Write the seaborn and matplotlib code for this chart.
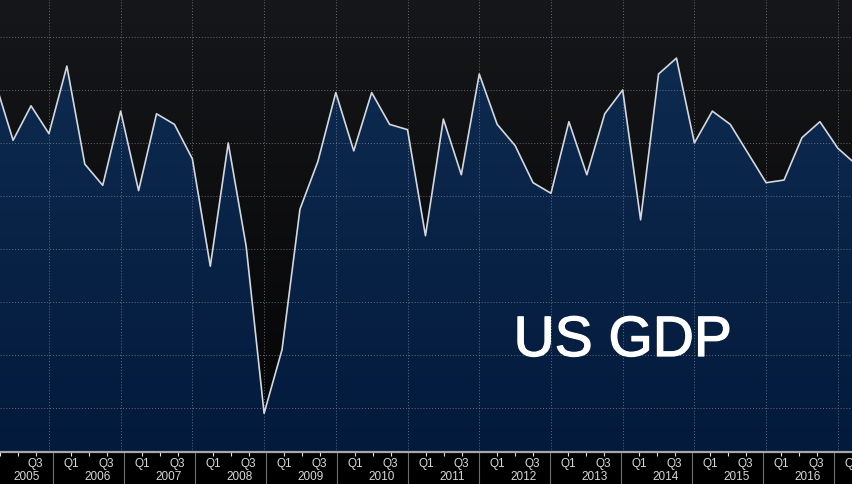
import numpy as np
import matplotlib
matplotlib.use('Agg')
import matplotlib.pyplot as plt
import matplotlib.patheffects as pe
from matplotlib.colors import LinearSegmentedColormap
import seaborn as sns

# Quarterly US GDP growth (annualised %)
years = list(range(2005, 2018))
quarters = ['Q1', 'Q2', 'Q3', 'Q4']
gdp_2005 = [4.3, 2.1, 3.4, 2.35]
gdp_2006 = [4.9, 1.2, 0.4, 3.2]
gdp_2007 = [0.2, 3.1, 2.7, 1.4]
gdp_2008 = [-2.65, 2.0, -1.9, -8.2]
gdp_2009 = [-5.8, -0.5, 1.3, 3.9]
gdp_2010 = [1.7, 3.9, 2.7, 2.5]
gdp_2011 = [-1.5, 2.9, 0.8, 4.6]
gdp_2012 = [2.7, 1.9, 0.5, 0.1]
gdp_2013 = [2.8, 0.8, 3.1, 4.0]
gdp_2014 = [-0.9, 4.6, 5.2, 2.0]
gdp_2015 = [3.2, 2.7, 1.6, 0.5]
gdp_2016 = [0.6, 2.2, 2.8, 1.8]
gdp_2017 = [1.2]

gdp = (gdp_2005 + gdp_2006 + gdp_2007 + gdp_2008 + gdp_2009 + gdp_2010 +
       gdp_2011 + gdp_2012 + gdp_2013 + gdp_2014 + gdp_2015 + gdp_2016 + gdp_2017)
x = np.arange(len(gdp))
y = np.array(gdp)

grid_values = [-8, -6, -4, -2, 0, 2, 4, 6]
xlim = (0.27, 47.79)
ylim = (-9.66, 7.43)

sns.set_style('dark')
plt.rcParams['font.family'] = ['Liberation Sans', 'DejaVu Sans']

fig = plt.figure(figsize=(8.52, 4.85), dpi=100)
fig.patch.set_facecolor('black')
ax = fig.add_axes([0, 32 / 485, 1, 453 / 485])
ax.set_xlim(*xlim)
ax.set_ylim(*ylim)
ax.set_axis_off()

# background gradient (dark grey to black)
bg_cmap = LinearSegmentedColormap.from_list('bg', ['#040405', '#16171a'])
grad = np.linspace(0, 1, 256).reshape(-1, 1)
ax.imshow(grad, extent=[xlim[0], xlim[1], ylim[0], ylim[1]], origin='lower',
          aspect='auto', cmap=bg_cmap, zorder=0)

# area fill with a blue gradient, clipped to the area under the line
poly = ax.fill_between(x, y, ylim[0], color='none', lw=0)
fill_cmap = LinearSegmentedColormap.from_list('fill', ['#031a3c', '#0f2d52'])
img = ax.imshow(grad, extent=[xlim[0], xlim[1], ylim[0], ylim[1]], origin='lower',
                aspect='auto', cmap=fill_cmap, zorder=1)
img.set_clip_path(poly.get_paths()[0], transform=ax.transData)

# dotted grid
year_bounds = [4 * i - 1 for i in range(len(years) + 1)]
for gv in grid_values:
    ax.axhline(gv, color='#8a8f99', lw=0.7, ls=(0, (1, 2)), alpha=0.7, zorder=2)
for yb in year_bounds:
    ax.axvline(yb, color='#8a8f99', lw=0.7, ls=(0, (1, 2)), alpha=0.7, zorder=2)

sns.lineplot(x=x, y=y, ax=ax, color='#d4d8de', lw=1.2, zorder=3)
if ax.get_legend():
    ax.get_legend().remove()

ax.text(0.731, 0.245, 'US GDP', transform=ax.transAxes, color='white',
        fontsize=41, ha='center', va='center', family=['Liberation Sans', 'DejaVu Sans'],
        path_effects=[pe.withStroke(linewidth=0.9, foreground='white')], zorder=5)

# bottom axis band
bax = fig.add_axes([0, 0, 1, 32 / 485])
bax.set_facecolor('black')
bax.set_xlim(*xlim)
bax.set_ylim(0, 1)
for s in ['left', 'right', 'bottom']:
    bax.spines[s].set_visible(False)
bax.spines['top'].set_color('#a8a8a8')
bax.spines['top'].set_linewidth(1.6)
tick_pos = [i for i in x if i % 4 != 3]
bax.set_xticks(tick_pos)
bax.set_yticks([])
bax.tick_params(axis='x', direction='in', top=True, bottom=False, length=3,
                width=0.8, color='#e0e0e0', labelbottom=False, labeltop=False)
bax.grid(False)
for yb in year_bounds:
    bax.axvline(yb, color='#6e6e6e', lw=0.8)

for i, yr in enumerate(years):
    for q in (0, 2):
        pos = 4 * i + q
        if pos < xlim[0]:
            continue
        bax.text(pos, 0.66, quarters[q], color='#d8d8d8', fontsize=8.5,
                 ha='center', va='center', clip_on=True)
    bax.text(4 * i + 1.5, 0.24, str(yr), color='#d8d8d8', fontsize=8.5,
             ha='center', va='center', clip_on=True)

fig.savefig('out.png', dpi=100, facecolor=fig.get_facecolor())
